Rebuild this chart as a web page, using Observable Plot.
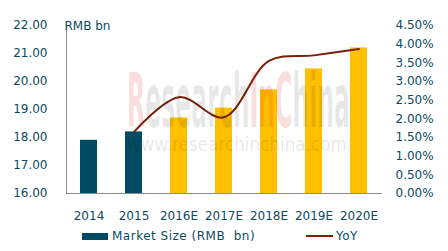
<!DOCTYPE html>
<html>
<head>
<meta charset="utf-8">
<script src="https://cdn.jsdelivr.net/npm/d3@7"></script>
<script src="https://cdn.jsdelivr.net/npm/@observablehq/plot@0.6"></script>
<style>
  html, body { margin: 0; padding: 0; background: #fff; }
  #wrap { position: relative; width: 448px; height: 251px; overflow: hidden; font-family: "DejaVu Sans", sans-serif; color: #0b4b62; }
  #legend { position: relative; height: 26px; font-size: 12px; }
  .sw { position: absolute; }
  .lt { position: absolute; top: 4px; line-height: 14px; white-space: pre; letter-spacing: 0.5px; }
  #wm { position: absolute; left: 0; top: 0; pointer-events: none; }
</style>
</head>
<body>
<div id="wrap">
  <div id="chart"></div>
  <div id="legend">
    <div class="sw" style="left:82px;top:8px;width:26px;height:7px;background:#004a62"></div>
    <div class="lt" style="left:112px">Market Size (RMB  bn)</div>
    <div class="sw" style="left:306px;top:10px;width:27px;height:2px;background:#7a1f08"></div>
    <div class="lt" style="left:336px">YoY</div>
  </div>
  <svg id="wm" width="448" height="251">
    <text id="wm1" font-family="DejaVu Sans" font-weight="bold" font-size="75"><tspan fill="rgba(225,40,40,0.17)">R</tspan><tspan fill="rgba(0,0,0,0.09)">esearch</tspan><tspan fill="rgba(225,40,40,0.17)">InC</tspan><tspan fill="rgba(0,0,0,0.09)">hina</tspan></text>
    <text id="wm2" font-family="DejaVu Sans" font-size="19" fill="rgba(0,0,0,0.1)">www.researchinchina.com</text>
  </svg>
</div>
<script>
const years = ["2014", "2015", "2016E", "2017E", "2018E", "2019E", "2020E"];
const marketSize = [17.9, 18.2, 18.7, 19.05, 19.7, 20.45, 21.2];
const yoyYears = ["2015", "2016E", "2017E", "2018E", "2019E", "2020E"];
const yoy = [1.65, 2.58, 2.04, 3.55, 3.70, 3.87];
const leftTicks = [16, 17, 18, 19, 20, 21, 22];
const rightTicks = [0, 0.5, 1, 1.5, 2, 2.5, 3, 3.5, 4, 4.5];

const leftMin = 16, leftMax = 22, rightMax = 4.5;
const toLeft = p => leftMin + p * (leftMax - leftMin) / rightMax;
const toRight = v => (v - leftMin) * rightMax / (leftMax - leftMin);

const bars = years.map((y, i) => ({year: y, value: marketSize[i], forecast: y.endsWith("E")}));
const line = yoyYears.map((y, i) => ({year: y, yoy: yoy[i]}));

const chart = Plot.plot({
  width: 448,
  height: 225,
  marginLeft: 66,
  marginRight: 67,
  marginTop: 25,
  marginBottom: 32,
  style: {fontFamily: "DejaVu Sans", fontSize: "12px", color: "#0b4b62", background: "transparent"},
  x: {domain: years, paddingInner: 0.62, paddingOuter: 0.31, label: null},
  y: {domain: [leftMin, leftMax], label: null},
  marks: [
    Plot.barY(bars.filter(d => !d.forecast), {x: "year", y1: leftMin, y2: "value", fill: "#004a62"}),
    Plot.barY(bars.filter(d => d.forecast), {x: "year", y1: leftMin, y2: "value", fill: "#ffc000"}),
    Plot.frame({anchor: "left", stroke: "#8c8c8c"}),
    Plot.frame({anchor: "bottom", stroke: "#8c8c8c"}),
    Plot.line(line, {x: "year", y: d => toLeft(d.yoy), stroke: "#7a1f08", strokeWidth: 2, curve: "catmull-rom"}),
    Plot.axisY(leftTicks, {anchor: "left", tickSize: 0, tickPadding: 19, tickFormat: d => d.toFixed(2), fill: "#0b4b62"}),
    Plot.axisY(rightTicks.map(toLeft), {anchor: "right", tickSize: 0, tickPadding: 14, tickFormat: v => toRight(v).toFixed(2) + "%", fill: "#0b4b62"}),
    Plot.axisX({tickSize: 0, tickPadding: 18, fill: "#0b4b62"}),
    Plot.text(["RMB bn"], {frameAnchor: "top-left", dx: -2, dy: -4, textAnchor: "start", fill: "#0b4b62", fontSize: 12})
  ]
});
document.getElementById("chart").appendChild(chart);

// watermark: fit each line to its width with a horizontal scale
function fitText(id, x, y, w) {
  const t = document.getElementById(id);
  const nat = t.getComputedTextLength();
  t.setAttribute("transform", `translate(${x},${y}) scale(${w / nat},1)`);
}
fitText("wm1", 127, 127, 223);
fitText("wm2", 127, 151, 220);
</script>
</body>
</html>
